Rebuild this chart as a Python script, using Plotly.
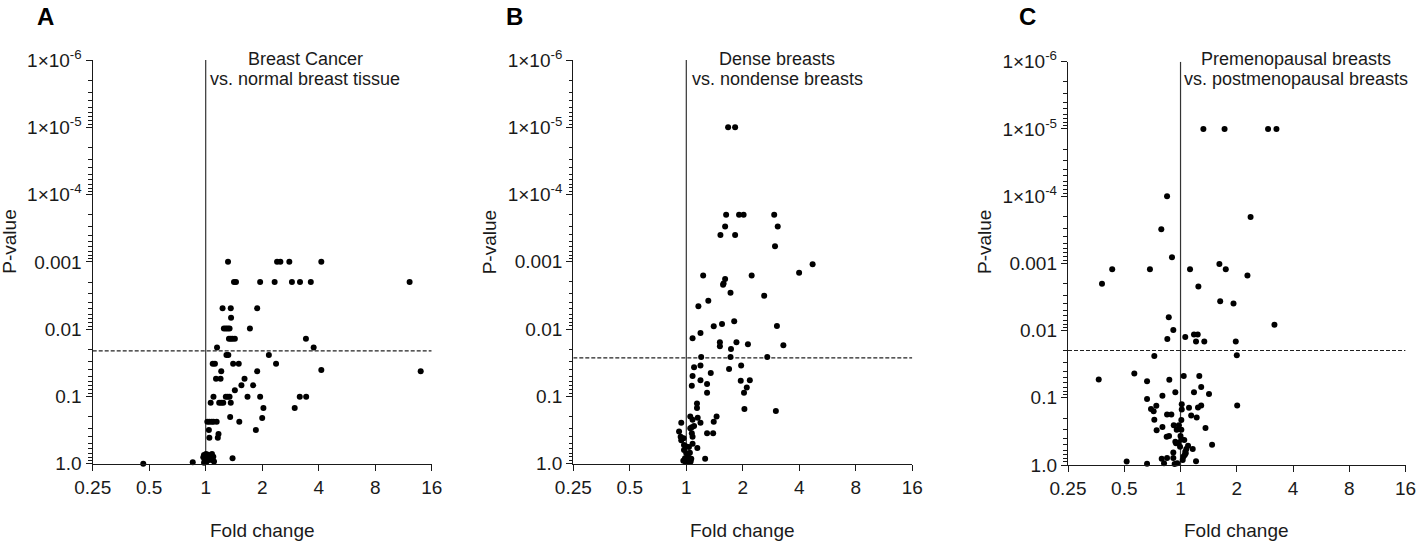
import plotly.graph_objects as go
import math

# ---------------- DATA ----------------
panel_letters = ["A", "B", "C"]
panel_titles = [["Breast Cancer", "vs. normal breast tissue"],
                ["Dense breasts", "vs. nondense breasts"],
                ["Premenopausal breasts", "vs. postmenopausal breasts"]]

x_tick_vals = [0.25, 0.5, 1, 2, 4, 8, 16]
x_tick_text = ["0.25", "0.5", "1", "2", "4", "8", "16"]
y_tick_vals = [1e-6, 1e-5, 1e-4, 1e-3, 1e-2, 1e-1, 1.0]
y_tick_text = ["1×10<sup>-6</sup>", "1×10<sup>-5</sup>", "1×10<sup>-4</sup>",
               "0.001", "0.01", "0.1", "1.0"]

threshold_p = [0.021, 0.0268, 0.0198]

fc_A = [1.315, 2.40, 2.50, 2.79, 4.13,
        1.415, 1.45, 1.95, 2.33, 2.88, 3.18, 3.63, 12.2,
        1.23, 1.36, 1.88, 1.365,
        1.25, 1.28, 1.31, 1.34, 1.72,
        1.33, 1.36, 1.39, 1.43, 3.42,
        1.149, 3.76, 1.29, 1.32, 2.17,
        1.09, 1.12, 1.40, 1.50, 2.37,
        4.13, 13.98, 1.21, 1.88,
        1.135, 1.20, 1.61, 1.55, 1.79, 1.43,
        1.10, 1.28, 1.31, 1.34, 1.67, 1.95, 3.17, 3.43,
        1.063, 1.18, 1.21, 1.24, 1.36,
        2.03, 2.98, 1.35, 2.0,
        1.02, 1.046, 1.076, 1.10, 1.144, 1.51,
        1.04, 1.85, 1.17, 1.046, 1.16,
        0.979, 1.004, 1.029, 0.971, 0.993, 1.02, 1.054, 1.08, 1.098,
        0.988, 1.012, 1.037, 1.08, 1.107, 0.98,
        1.39, 0.853, 0.465]
p_A = [0.001, 0.001, 0.001, 0.001, 0.001,
       0.002, 0.002, 0.002, 0.002, 0.002, 0.002, 0.002, 0.002,
       0.0049, 0.0049, 0.0049, 0.0068,
       0.0098, 0.0098, 0.0098, 0.0098, 0.0098,
       0.0139, 0.0139, 0.0139, 0.0139, 0.0139,
       0.0187, 0.0187, 0.0243, 0.0243, 0.0243,
       0.0326, 0.0326, 0.0326, 0.0326, 0.0326,
       0.0405, 0.0424, 0.0424, 0.0424,
       0.0545, 0.0545, 0.0545, 0.0685, 0.0685, 0.081,
       0.101, 0.101, 0.101, 0.101, 0.101, 0.101, 0.101, 0.101,
       0.124, 0.124, 0.124, 0.124, 0.124,
       0.149, 0.149, 0.202, 0.21,
       0.238, 0.238, 0.238, 0.238, 0.238, 0.238,
       0.316, 0.316, 0.362, 0.41, 0.41,
       0.743, 0.718, 0.734, 0.80, 0.83, 0.787, 0.768, 0.718, 0.787,
       0.90, 0.93, 0.88, 0.88, 0.93, 0.966,
       0.83, 0.95, 1.0]

fc_B = [1.67, 1.82,
        1.63, 1.91, 2.02, 2.94, 3.07, 1.61, 1.52, 1.82, 2.97,
        4.71, 3.99, 1.23, 2.23, 1.61, 1.58, 1.57,
        1.72, 2.60, 1.31, 1.16,
        1.40, 1.55, 1.80, 3.04, 1.19, 1.08,
        1.51, 1.51, 1.85, 1.73, 2.13, 3.29,
        1.20, 1.72, 2.70,
        1.19, 1.10, 1.69, 1.96,
        1.35, 1.08, 1.19, 1.95, 2.18,
        1.29, 1.07, 2.10, 1.29, 2.03,
        1.14, 1.14, 2.04, 3.0,
        1.05, 1.15, 1.45, 1.08, 1.40, 0.94, 1.19,
        1.10, 1.07, 1.05,
        0.915, 1.07, 1.08, 1.29, 1.39,
        0.933, 0.948, 0.968, 0.94,
        1.08, 0.972, 1.0, 1.033, 1.145,
        0.972, 1.0, 1.02, 1.045, 0.984, 1.005, 1.037, 1.063, 0.964, 1.02, 0.993, 1.055,
        1.26]
p_B = [1e-5, 1e-5,
       0.0002, 0.0002, 0.0002, 0.0002, 0.0003, 0.0003, 0.0004, 0.0004, 0.00059,
       0.00109, 0.00146, 0.0016, 0.0016, 0.0018, 0.0021, 0.0022,
       0.0029, 0.0032, 0.0038, 0.0046,
       0.0091, 0.0084, 0.0077, 0.009, 0.0115, 0.0137,
       0.0158, 0.018, 0.0158, 0.0199, 0.0169, 0.0175,
       0.026, 0.026, 0.026,
       0.0348, 0.037, 0.0394, 0.0348,
       0.045, 0.050, 0.058, 0.059, 0.058,
       0.066, 0.070, 0.0738, 0.0887, 0.0887,
       0.128, 0.150, 0.155, 0.166,
       0.20, 0.208, 0.20, 0.223, 0.239, 0.248, 0.248,
       0.277, 0.29, 0.30,
       0.333, 0.356, 0.40, 0.356, 0.356,
       0.40, 0.42, 0.42, 0.45,
       0.508, 0.53, 0.56, 0.57, 0.59,
       0.63, 0.705, 0.747, 0.69, 0.837, 0.887, 0.866, 0.848, 0.909, 0.94, 0.95, 0.93,
       0.85]

fc_C = [1.325, 1.72, 2.94, 3.26,
        0.847, 2.37, 0.789, 0.90,
        0.431, 0.686, 1.124, 1.614, 1.746, 2.28,
        0.38, 1.246, 1.63, 1.92,
        0.865, 3.18, 0.915,
        0.85, 1.06, 1.18, 1.236, 1.21, 1.34, 1.975,
        0.724, 2.0,
        0.566, 0.365, 0.662, 0.871, 1.04, 1.26,
        1.29, 1.18, 0.938, 1.42,
        0.662, 0.80,
        0.695, 0.718, 0.742,
        0.724, 0.745, 0.80,
        0.847, 0.893,
        0.92, 0.954, 0.98, 1.01,
        1.015, 1.015, 1.01,
        1.11, 1.14, 1.22, 1.24, 1.29,
        1.36, 1.475, 2.01,
        0.843, 0.868, 0.938, 0.946, 1.0, 1.01, 1.047,
        0.915, 1.06, 1.097, 1.074, 1.162,
        0.793, 0.847, 0.915,
        0.816, 0.93, 0.96, 1.027, 1.035, 1.053, 1.066,
        0.994, 0.978,
        1.21, 0.515, 0.662]
p_C = [1e-5, 1e-5, 1e-5, 1e-5,
       1.0e-4, 0.000204, 0.00031, 0.00081,
       0.00122, 0.00122, 0.00122, 0.00102, 0.00122, 0.00152,
       0.00202, 0.00221, 0.00366, 0.00396,
       0.00633, 0.0082, 0.0098,
       0.0134, 0.0125, 0.0114, 0.0114, 0.0145, 0.0145, 0.0145,
       0.0238, 0.0232,
       0.0434, 0.0533, 0.057, 0.054, 0.0476, 0.0476,
       0.069, 0.083, 0.083, 0.088,
       0.104, 0.093,
       0.147, 0.158, 0.131,
       0.212, 0.305, 0.272,
       0.177, 0.177,
       0.257, 0.30, 0.257, 0.30,
       0.125, 0.149, 0.214,
       0.141, 0.183, 0.196, 0.14, 0.13,
       0.282, 0.50, 0.13,
       0.38, 0.37, 0.45, 0.476, 0.37, 0.415, 0.425,
       0.65, 0.635, 0.517, 0.58, 0.58,
       0.806, 0.787, 0.787,
       0.944, 0.966, 0.944, 0.843, 0.753, 0.71, 0.67,
       0.535, 0.466,
       0.88, 0.89, 0.96]

fold_changes = [fc_A, fc_B, fc_C]
p_values = [p_A, p_B, p_C]

# ---------------- LAYOUT / STYLE ----------------
W, H = 1417, 543
FONT = "Liberation Sans, Arial, Helvetica, sans-serif"
INK = "#1a1a1a"


def px(x):
    return x / W


def py(y):
    return 1 - y / H


# pixel geometry of the three plot areas (left, right, top, bottom)
areas = [(92.7, 431.7, 60.0, 463.7),
         (573.3, 912.3, 60.0, 463.5),
         (1068.0, 1405.6, 61.7, 465.0)]
letter_x = [45, 514, 1027]
title_x = [305, 777.5, 1296]

minor_vals = [m * 10 ** k for k in range(-6, 0) for m in range(2, 10)]

fig = go.Figure()
annotations = []

for i in range(3):
    xa = "x" if i == 0 else f"x{i+1}"
    ya = "y" if i == 0 else f"y{i+1}"
    L, R, T, B = areas[i]

    # reference lines
    fig.add_trace(go.Scatter(x=[1, 1], y=[1e-6, 1.0], mode="lines",
                             line=dict(color="#333333", width=1.2),
                             xaxis=xa, yaxis=ya, showlegend=False, hoverinfo="skip"))
    fig.add_trace(go.Scatter(x=[x_tick_vals[0], x_tick_vals[-1]],
                             y=[threshold_p[i], threshold_p[i]], mode="lines",
                             line=dict(color="#222222", width=1.2, dash="4px,2px"),
                             xaxis=xa, yaxis=ya, showlegend=False, hoverinfo="skip"))
    # data points
    fig.add_trace(go.Scatter(x=fold_changes[i], y=p_values[i], mode="markers",
                             marker=dict(color="#000000", size=6),
                             xaxis=xa, yaxis=ya, showlegend=False, cliponaxis=False))

    xdom = [px(L), px(R)]
    ydom = [py(B), py(T)]
    xkey = "xaxis" if i == 0 else f"xaxis{i+1}"
    ykey = "yaxis" if i == 0 else f"yaxis{i+1}"
    fig.update_layout(**{
        xkey: dict(domain=xdom, type="log", anchor=ya, automargin=False,
                   range=[math.log10(x_tick_vals[0]), math.log10(x_tick_vals[-1])],
                   tickmode="array", tickvals=x_tick_vals, ticktext=x_tick_text,
                   ticks="outside", ticklen=6, tickwidth=1.3, tickcolor=INK,
                   showline=True, linecolor=INK, linewidth=1.4,
                   showgrid=False, zeroline=False,
                   tickfont=dict(family=FONT, size=19, color=INK)),
        ykey: dict(domain=ydom, type="log", anchor=xa, automargin=False,
                   range=[0, -6],
                   tickmode="array", tickvals=y_tick_vals, ticktext=y_tick_text,
                   ticks="outside", ticklen=6, tickwidth=1.3, tickcolor=INK,
                   minor=dict(tickmode="array", tickvals=minor_vals, ticks="outside",
                              ticklen=3.5, tickwidth=1, tickcolor=INK, showgrid=False),
                   showline=True, linecolor=INK, linewidth=1.4,
                   showgrid=False, zeroline=False,
                   tickfont=dict(family=FONT, size=19, color=INK)),
    })

    # panel letter
    annotations.append(dict(text=f"<b>{panel_letters[i]}</b>", x=px(letter_x[i]), y=py(16),
                            xref="paper", yref="paper", xanchor="center", yanchor="middle",
                            showarrow=False, font=dict(family=FONT, size=24, color="#000")))
    # two-line title
    for j, line in enumerate(panel_titles[i]):
        annotations.append(dict(text=line, x=px(title_x[i]), y=py(59 + 20 * j),
                                xref="paper", yref="paper", xanchor="center", yanchor="middle",
                                showarrow=False,
                                font=dict(family=FONT, size=18, color=INK)))
    # x axis title
    annotations.append(dict(text="Fold change", x=px((L + R) / 2), y=py(530),
                            xref="paper", yref="paper", xanchor="center", yanchor="middle",
                            showarrow=False, font=dict(family=FONT, size=19, color=INK)))
    # y axis title
    annotations.append(dict(text="P-value", x=px(L - 83), y=py(242),
                            xref="paper", yref="paper", xanchor="center", yanchor="middle",
                            textangle=-90, showarrow=False,
                            font=dict(family=FONT, size=19, color=INK)))

fig.update_layout(template="none", width=W, height=H,
                  margin=dict(l=0, r=0, t=0, b=0, pad=0, autoexpand=False),
                  paper_bgcolor="white", plot_bgcolor="white",
                  annotations=annotations, showlegend=False)

# remove the browser's default 8 px page margin so the figure fills the window
fig.write_html("out.html", config={"displayModeBar": False},
               post_script="document.body.style.margin='0px';")
